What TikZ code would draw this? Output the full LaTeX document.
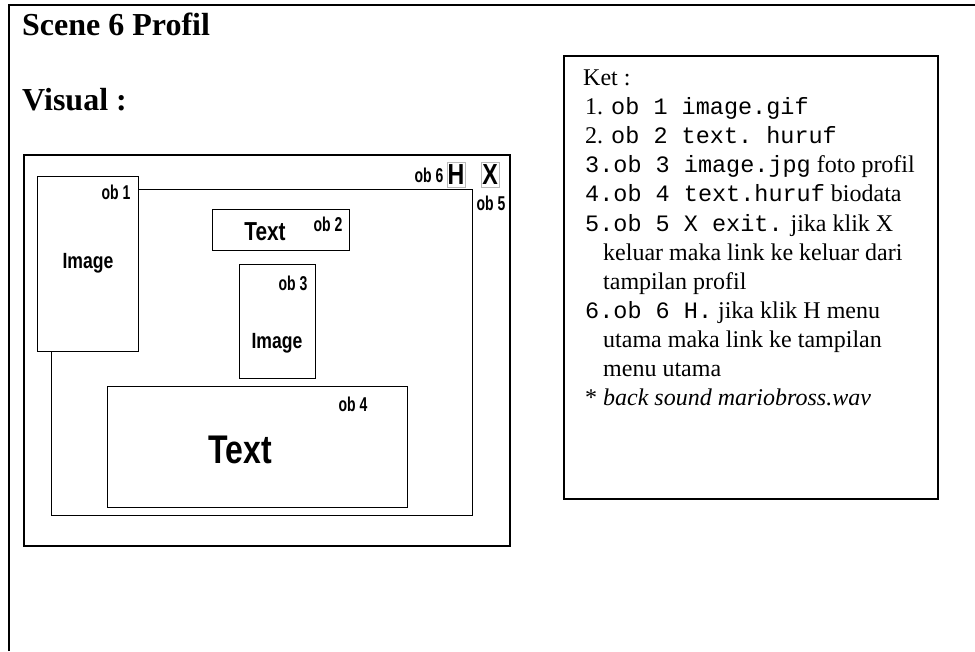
\documentclass[tikz,border=0pt]{standalone}
\usepackage{fontspec}
\setmainfont{Liberation Serif}
\setmonofont{Liberation Mono}
\newfontfamily\narrowsans[FakeStretch=0.8]{Liberation Sans}
\newfontfamily\labelsans[FakeStretch=0.7]{Liberation Sans}
\newcommand\kode[1]{{\ttfamily\fontsize{23.5}{29}\selectfont #1}}

\tikzset{
  heading/.style={font=\bfseries\fontsize{32}{32}\selectfont, anchor=base west, inner sep=0pt},
  objbox/.style={draw, line width=1pt, fill=white, anchor=north west, inner sep=0pt},
  oblabel/.style={font=\labelsans\bfseries\fontsize{20}{20}\selectfont, inner sep=0pt},
  objtext/.style={font=\narrowsans\bfseries\fontsize{#1}{#1}\selectfont, inner sep=0pt},
  btn/.style={draw=gray!55, line width=0.8pt, minimum width=18, minimum height=25, inner sep=0pt,
    font=\narrowsans\bfseries\fontsize{29}{29}\selectfont},
  ketline/.style={font=\fontsize{24}{29}\selectfont, anchor=base west, inner sep=0pt}
}

\begin{document}
\begin{tikzpicture}[x=1pt, y=-1pt]
        \useasboundingbox (0,0) rectangle (975,651);
        % Garis tepi sel tabel
        \draw[line width=2pt] (9,651) -- (9,5) -- (975,5);

        % Judul
        \node[heading] (title) at (22,35) {Scene 6 Profil};
        \node[heading] (visual) at (22,110) {Visual :};

        % Bingkai tampilan
        \node[draw, line width=2pt, anchor=north west, minimum width=486, minimum height=391] (frame) at (23,154) {};
        \node[objbox, minimum width=421, minimum height=326] (screen) at (51,189) {};

        % Objek ob 1 - ob 4
        \node[objbox, minimum width=101, minimum height=175] (ob1) at (37,176) {};
        \node[objbox, minimum width=137, minimum height=41] (ob2) at (212,209) {};
        \node[objbox, minimum width=76, minimum height=114] (ob3) at (239,264) {};
        \node[objbox, minimum width=300, minimum height=121] (ob4) at (107,386) {};

        \node[objtext=22] (img1) at (88,263) {Image};
        \node[objtext=26] (txt2) at (265,232) {Text};
        \node[objtext=22] (img3) at (277,343) {Image};
        \node[objtext=40] (txt4) at (240,450) {Text};

        \node[oblabel] (lab1) at (116,192) {ob 1};
        \node[oblabel] (lab2) at (328,224) {ob 2};
        \node[oblabel] (lab3) at (293,283) {ob 3};
        \node[oblabel] (lab4) at (353,404) {ob 4};

        % Tombol H dan X
        \node[btn] (hbtn) at (456,174.5) {H};
        \node[btn] (xbtn) at (490,174.5) {X};
        \node[oblabel] (lab6) at (429,175) {ob 6};
        \node[oblabel] (lab5) at (491,203) {ob 5};

        % Keterangan
        \node[draw, line width=2pt, anchor=north west, minimum width=374, minimum height=443] (ket) at (563,55) {};
        \node[ketline] (k0) at (583,85) {Ket :};
        \node[ketline] (k1) at (585,114) {1. \kode{ob 1 image.gif}};
        \node[ketline] (k2) at (585,143) {2. \kode{ob 2 text. huruf}};
        \node[ketline] (k3) at (585,172) {\kode{3.ob 3 image.jpg} foto profil};
        \node[ketline] (k4) at (585,201) {\kode{4.ob 4 text.huruf} biodata};
        \node[ketline] (k5) at (585,231) {\kode{5.ob 5 X exit.} jika klik X};
        \node[ketline] (k5b) at (603,260) {keluar maka link ke keluar dari};
        \node[ketline] (k5c) at (603,289) {tampilan profil};
        \node[ketline] (k6) at (585,318) {\kode{6.ob 6 H.} jika klik H menu};
        \node[ketline] (k6b) at (603,347) {utama maka link ke tampilan};
        \node[ketline] (k6c) at (603,376) {menu utama};
        \node[ketline] (k7) at (585,405) {* \textit{back sound mariobross.wav}};
    \end{tikzpicture}
\end{document}
